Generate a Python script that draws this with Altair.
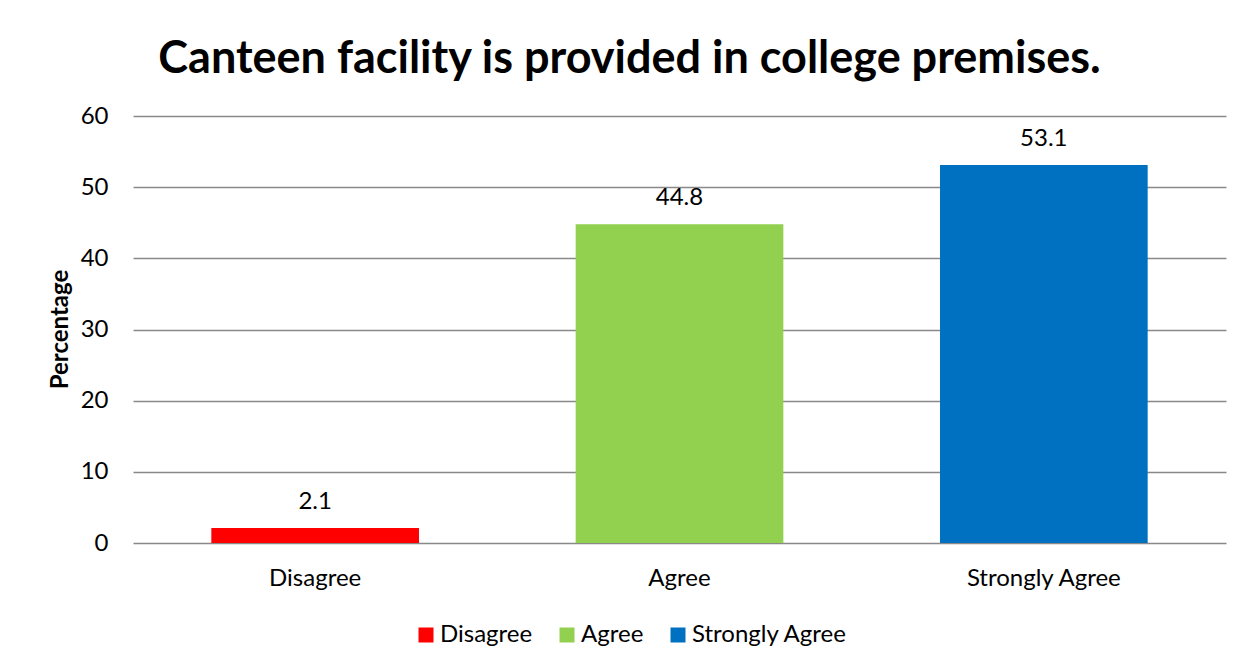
import altair as alt
import pandas as pd

categories = ["Disagree", "Agree", "Strongly Agree"]
values = [2.1, 44.8, 53.1]
colors = ["#FF0000", "#92D050", "#0070C0"]
y_ticks = [0, 10, 20, 30, 40, 50, 60]

df = pd.DataFrame({"category": categories, "value": values})

FONT = "Lato"
FS = 24

x = alt.X(
    "category:N",
    sort=categories,
    scale=alt.Scale(paddingInner=0.43, paddingOuter=0.215),
    axis=alt.Axis(title=None, labelAngle=0, labelFontSize=FS, labelColor="#000000",
                  labelFont=FONT, labelPadding=23, ticks=False, domain=False),
)
y = alt.Y(
    "value:Q",
    scale=alt.Scale(domain=[0, 60]),
    axis=alt.Axis(title="Percentage", values=y_ticks, labelOverlap=False,
                  labelFontSize=FS, labelColor="#000000", labelFont=FONT, labelPadding=25,
                  ticks=False, domain=False, grid=True, gridColor="#898989", gridWidth=1.7,
                  titleFont=FONT, titleFontSize=24, titleFontWeight="bold", titleColor="#000000",
                  titleX=-73, titleY=213, titleAngle=-90, titleAlign="center", titleBaseline="middle"),
)

bars = alt.Chart(df).mark_bar().encode(
    x=x,
    y=y,
    color=alt.Color(
        "category:N",
        sort=categories,
        scale=alt.Scale(domain=categories, range=colors),
        legend=alt.Legend(title=None, orient="none", direction="horizontal",
                          legendX=281, legendY=507, symbolType="square", symbolSize=225,
                          symbolStrokeWidth=0, labelFontSize=FS, labelFont=FONT,
                          labelColor="#000000", labelOffset=2, columnPadding=22),
    ),
)

labels = alt.Chart(df).mark_text(
    fontSize=FS, font=FONT, color="#000000", dy=-26, baseline="middle"
).encode(
    x=x,
    y=y,
    text=alt.Text("value:Q", format=".1f"),
)

chart = (
    alt.layer(bars, labels)
    .properties(
        width=1093,
        height=427,
        autosize=alt.AutoSizeParams(type="none"),
        padding={"left": 125, "top": 108, "right": 19, "bottom": 120},
        title=alt.Title("Canteen facility is provided in college premises.",
                        font=FONT, fontSize=45, fontWeight="bold", color="#000000",
                        anchor="middle", frame="group", offset=22, dx=-50),
    )
    .configure_view(stroke=None)
)

chart.save("out.html", embed_options={"renderer": "svg", "actions": False})
